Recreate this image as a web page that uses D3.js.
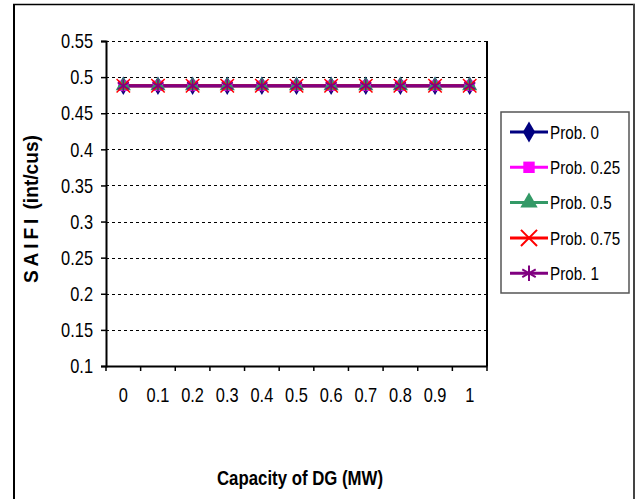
<!DOCTYPE html>
<html><head><meta charset="utf-8">
<script src="https://cdn.jsdelivr.net/npm/d3@7"></script>
<style>
body{margin:0;background:#fff;}
text{font-family:"Liberation Sans",Arial,sans-serif;}
</style></head><body>
<svg id="c" width="638" height="499"></svg>
<script>
const categories = ["0","0.1","0.2","0.3","0.4","0.5","0.6","0.7","0.8","0.9","1"];
const prob0   = [0.488,0.488,0.488,0.488,0.488,0.488,0.488,0.488,0.488,0.488,0.488];
const prob025 = [0.488,0.488,0.488,0.488,0.488,0.488,0.488,0.488,0.488,0.488,0.488];
const prob05  = [0.488,0.488,0.488,0.488,0.488,0.488,0.488,0.488,0.488,0.488,0.488];
const prob075 = [0.488,0.488,0.488,0.488,0.488,0.488,0.488,0.488,0.488,0.488,0.488];
const prob1   = [0.488,0.488,0.488,0.488,0.488,0.488,0.488,0.488,0.488,0.488,0.488];
const seriesNames = ["Prob. 0","Prob. 0.25","Prob. 0.5","Prob. 0.75","Prob. 1"];
const yTicks = [0.1,0.15,0.2,0.25,0.3,0.35,0.4,0.45,0.5,0.55];

const colors = ["#000080","#FF00FF","#339966","#FF0000","#800080"];
const symbols = [d3.symbolDiamond, d3.symbolSquare, d3.symbolTriangle, d3.symbolTimes, d3.symbolAsterisk];
const series = [prob0,prob025,prob05,prob075,prob1].map((v,i)=>({name:seriesNames[i],values:v,color:colors[i],symbol:symbols[i]}));

const svg = d3.select("#c");
const L=106, R=487, T=41, B=366;

function narrow(sel, f){
  sel.each(function(){
    const w = this.getComputedTextLength();
    d3.select(this).attr("textLength", w*f).attr("lengthAdjust","spacingAndGlyphs");
  });
}

// outer border
svg.append("line").attr("x1",14).attr("x2",14).attr("y1",4).attr("y2",499).attr("stroke","#000").attr("stroke-width",2);
svg.append("line").attr("x1",13).attr("x2",635).attr("y1",4.5).attr("y2",4.5).attr("stroke","#000").attr("stroke-width",1.5);
svg.append("line").attr("x1",634).attr("x2",634).attr("y1",4).attr("y2",499).attr("stroke","#444").attr("stroke-width",2);

const x = d3.scaleBand().domain(categories).range([L,R]);
const y = d3.scaleLinear().domain([0.1,0.55]).range([B,T]);

// gridlines
svg.append("g").selectAll("line").data(yTicks.filter(t=>t>0.1)).join("line")
  .attr("x1",L).attr("x2",R).attr("y1",d=>Math.round(y(d))+0.5).attr("y2",d=>Math.round(y(d))+0.5)
  .attr("stroke","#000").attr("stroke-width",1).attr("stroke-dasharray","3,3");
// right border of plot
svg.append("line").attr("x1",R).attr("x2",R).attr("y1",T).attr("y2",B).attr("stroke","#000").attr("stroke-width",2);

// y axis
const ya = svg.append("g").attr("transform",`translate(${L},0)`)
  .call(d3.axisLeft(y).tickValues(yTicks).tickFormat(d=>String(+d.toFixed(2))).tickSize(5).tickPadding(8));
ya.select(".domain").attr("stroke","#000").attr("stroke-width",2);
ya.selectAll(".tick line").attr("stroke","#000").attr("stroke-width",1.5);
ya.selectAll(".tick text").attr("font-size",21).attr("fill","#000").attr("font-family",null);
narrow(ya.selectAll(".tick text"),0.78);

// x axis
const xa = svg.append("g").attr("transform",`translate(0,${B})`)
  .call(d3.axisBottom(x).tickSize(0).tickPadding(21));
xa.select(".domain").attr("stroke","#000").attr("stroke-width",2);
xa.selectAll(".tick text").attr("font-size",21).attr("fill","#000").attr("font-family",null);
narrow(xa.selectAll(".tick text"),0.78);
// x ticks between categories
const edges = categories.map(c=>x(c)).concat([R]);
svg.append("g").selectAll("line").data(edges).join("line")
  .attr("x1",d=>d).attr("x2",d=>d).attr("y1",B).attr("y2",B+5).attr("stroke","#000").attr("stroke-width",1.5);

// lines
const line = d3.line().x((d,i)=>x(categories[i])+x.bandwidth()/2).y(d=>y(d));
series.forEach(s=>{
  svg.append("path").datum(s.values).attr("d",line).attr("fill","none").attr("stroke",s.color).attr("stroke-width",3);
});
series.forEach(s=>{
  const isLine = s.symbol===d3.symbolTimes||s.symbol===d3.symbolAsterisk;
  svg.append("g").selectAll("path").data(s.values).join("path")
    .attr("transform",(d,i)=>`translate(${x(categories[i])+x.bandwidth()/2},${y(d)})`)
    .attr("d",d3.symbol().type(s.symbol).size(isLine?120:s.symbol===d3.symbolSquare?110:100))
    .attr("fill",isLine?"none":s.color).attr("stroke",s.color).attr("stroke-width",isLine?1.5:0);
});

// axis titles
const yt = svg.append("text").attr("transform","translate(38,209) rotate(-90)").attr("text-anchor","middle")
  .attr("font-size",20).attr("font-weight","bold");
yt.append("tspan").attr("letter-spacing","4").text("SAIFI");
yt.append("tspan").text(" (int/cus)");
yt.attr("textLength",148).attr("lengthAdjust","spacingAndGlyphs");
svg.append("text").attr("x",300).attr("y",485).attr("text-anchor","middle")
  .attr("font-size",20).attr("font-weight","bold").attr("textLength",166).attr("lengthAdjust","spacingAndGlyphs")
  .text("Capacity of DG (MW)");

// legend
const lg = svg.append("g");
lg.append("rect").attr("x",501).attr("y",112).attr("width",128).attr("height",181)
  .attr("fill","#fff").attr("stroke","#555").attr("stroke-width",1.5);
series.forEach((s,i)=>{
  const cy = 132 + i*35.3;
  const isLine = s.symbol===d3.symbolTimes||s.symbol===d3.symbolAsterisk;
  lg.append("line").attr("x1",510).attr("x2",548).attr("y1",cy).attr("y2",cy).attr("stroke",s.color).attr("stroke-width",3);
  lg.append("path").attr("transform",`translate(529,${cy})`)
    .attr("d",d3.symbol().type(s.symbol).size(isLine?170:130))
    .attr("fill",isLine?"none":s.color).attr("stroke",s.color).attr("stroke-width",isLine?2:0);
  const t = lg.append("text").attr("x",550).attr("y",cy).attr("dy","0.36em").attr("font-size",19).attr("fill","#000").text(s.name);
  narrow(t,0.8);
});
</script></body></html>
